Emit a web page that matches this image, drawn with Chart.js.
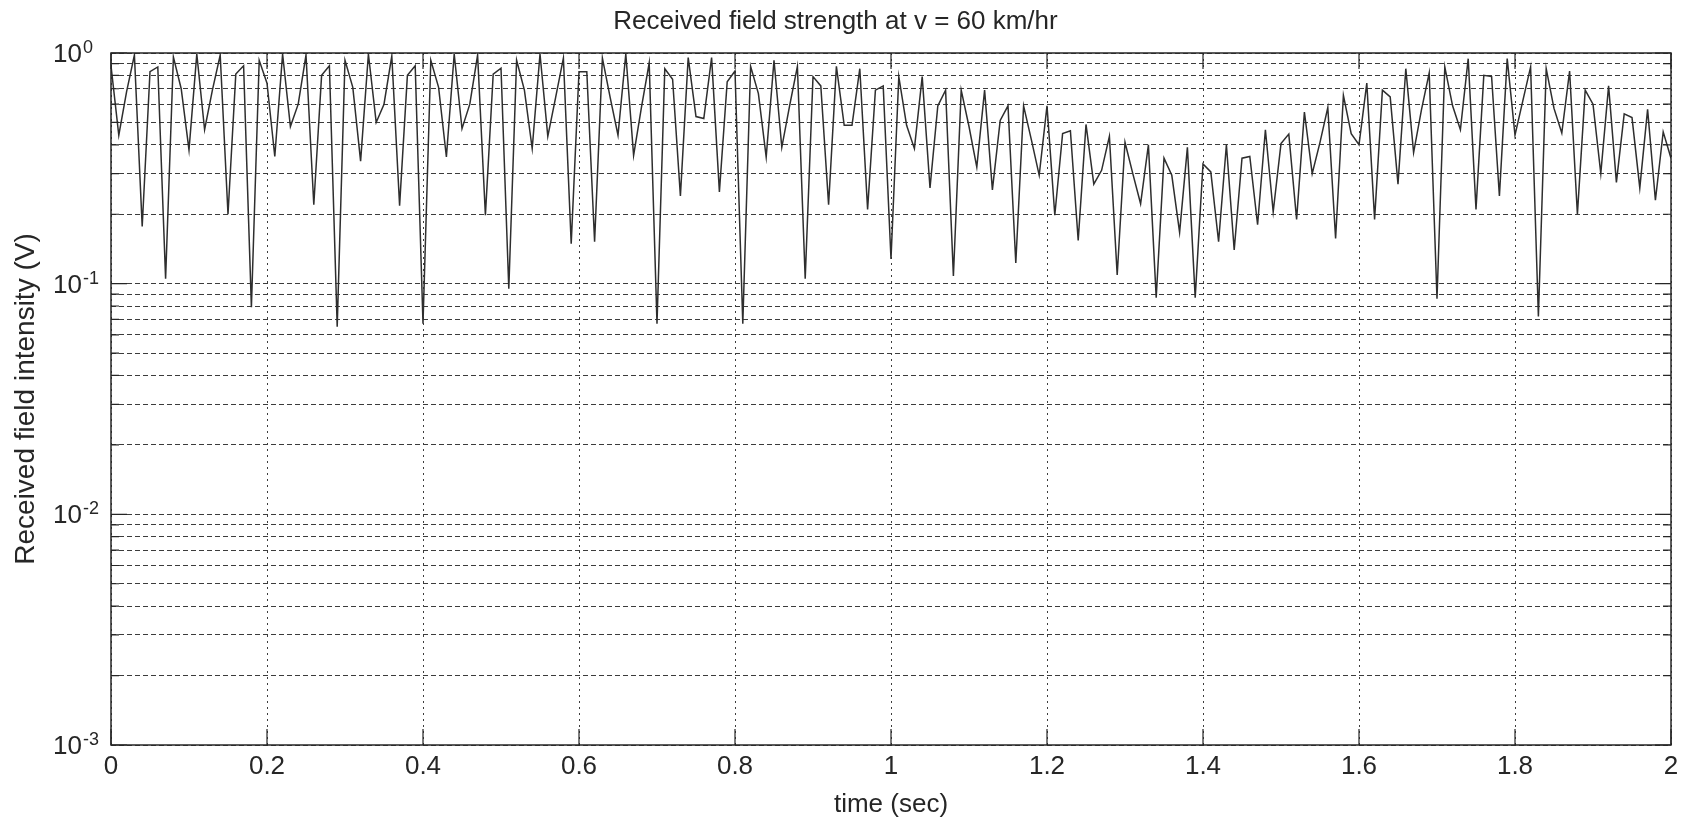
<!DOCTYPE html>
<html>
<head>
<meta charset="utf-8">
<title>Received field strength</title>
<script src="https://cdn.jsdelivr.net/npm/chart.js@4/dist/chart.umd.min.js"></script>
<style>
  html, body { margin: 0; padding: 0; background: #fff; }
  #wrap { width: 1692px; height: 823px; }
</style>
</head>
<body>
<div id="wrap"><canvas id="fieldChart"></canvas></div>
<script>
const sampleStep = 0.01;
const fieldValues = [
  0.88, 0.44, 0.68, 0.98, 0.177, 0.83, 0.87, 0.105, 0.96, 0.70,
  0.38, 0.99, 0.465, 0.69, 0.98, 0.20, 0.81, 0.88, 0.079, 0.93,
  0.74, 0.356, 0.99, 0.48, 0.60, 0.98, 0.22, 0.80, 0.88, 0.065,
  0.93, 0.71, 0.34, 0.99, 0.50, 0.60, 0.97, 0.218, 0.80, 0.88,
  0.067, 0.93, 0.71, 0.354, 0.99, 0.47, 0.60, 0.98, 0.198, 0.81,
  0.86, 0.095, 0.93, 0.69, 0.385, 0.99, 0.435, 0.64, 0.95, 0.149,
  0.83, 0.83, 0.152, 0.95, 0.64, 0.44, 0.99, 0.36, 0.58, 0.905,
  0.067, 0.855, 0.77, 0.24, 0.955, 0.53, 0.52, 0.955, 0.25, 0.75,
  0.835, 0.067, 0.875, 0.667, 0.354, 0.93, 0.39, 0.59, 0.875, 0.105,
  0.79, 0.72, 0.22, 0.875, 0.486, 0.486, 0.855, 0.21, 0.69, 0.72,
  0.128, 0.79, 0.486, 0.385, 0.79, 0.26, 0.59, 0.69, 0.108, 0.69,
  0.48, 0.32, 0.69, 0.255, 0.51, 0.59, 0.123, 0.59, 0.42, 0.295,
  0.59, 0.198, 0.447, 0.46, 0.154, 0.49, 0.27, 0.31, 0.435, 0.109,
  0.41, 0.30, 0.222, 0.40, 0.087, 0.35, 0.295, 0.167, 0.39, 0.087,
  0.33, 0.305, 0.152, 0.40, 0.14, 0.35, 0.356, 0.18, 0.465, 0.205,
  0.405, 0.445, 0.19, 0.555, 0.30, 0.41, 0.58, 0.157, 0.655, 0.447,
  0.40, 0.74, 0.19, 0.69, 0.645, 0.27, 0.855, 0.37, 0.565, 0.82,
  0.086, 0.87, 0.59, 0.465, 0.945, 0.21, 0.80, 0.79, 0.24, 0.945,
  0.44, 0.62, 0.87, 0.072, 0.855, 0.575, 0.45, 0.835, 0.20, 0.69,
  0.60, 0.30, 0.72, 0.275, 0.545, 0.525, 0.26, 0.57, 0.23, 0.455,
  0.35
];

const xTicks = [0, 0.2, 0.4, 0.6, 0.8, 1, 1.2, 1.4, 1.6, 1.8, 2];
const xTickLabels = ['0', '0.2', '0.4', '0.6', '0.8', '1', '1.2', '1.4', '1.6', '1.8', '2'];
const yDecades = [0.001, 0.01, 0.1, 1];
const yDecadeExponents = ['-3', '-2', '-1', '0'];
const yMultiples = [1, 2, 3, 4, 5, 6, 7, 8, 9];

const fontFamily = '"Liberation Sans", Arial, Helvetica, sans-serif';
const inkColor = '#262626';

// every gridline value of the log axis: 1..9 x each decade, then 1
const yGridValues = [];
yDecades.slice(0, -1).forEach((d) => {
  yMultiples.forEach((m) => yGridValues.push(+(d * m).toPrecision(3)));
});
yGridValues.push(1);

const points = fieldValues.map((v, i) => ({ x: +(i * sampleStep).toFixed(2), y: v }));

// box, inward ticks and 10^n labels, like the MATLAB axes
const axesFrame = {
  id: 'axesFrame',
  afterDraw(chart) {
    const { ctx, chartArea: a, scales } = chart;
    const xs = scales.x;
    const ys = scales.y;
    ctx.save();
    ctx.strokeStyle = inkColor;
    ctx.lineWidth = 1.5;
    ctx.setLineDash([]);
    ctx.strokeRect(a.left, a.top, a.right - a.left, a.bottom - a.top);

    ctx.lineWidth = 1.2;
    ctx.beginPath();
    xTicks.forEach((t) => {
      const px = xs.getPixelForValue(t);
      ctx.moveTo(px, a.bottom);
      ctx.lineTo(px, a.bottom - 16);
      ctx.moveTo(px, a.top);
      ctx.lineTo(px, a.top + 16);
    });
    yGridValues.forEach((v) => {
      const py = ys.getPixelForValue(v);
      const len = yDecades.includes(v) ? 16 : 8;
      ctx.moveTo(a.left, py);
      ctx.lineTo(a.left + len, py);
      ctx.moveTo(a.right, py);
      ctx.lineTo(a.right - len, py);
    });
    ctx.stroke();

    ctx.fillStyle = inkColor;
    yDecades.forEach((d, i) => {
      const py = ys.getPixelForValue(d);
      ctx.font = '26px ' + fontFamily;
      ctx.textAlign = 'right';
      ctx.textBaseline = 'alphabetic';
      ctx.fillText('10', a.left - 29, py + 9);
      ctx.font = '18px ' + fontFamily;
      ctx.textAlign = 'left';
      ctx.fillText(yDecadeExponents[i], a.left - 28, py);
    });
    ctx.restore();
  },
};

new Chart(document.getElementById('fieldChart'), {
  type: 'line',
  data: {
    datasets: [
      {
        data: points,
        borderColor: '#2e2e2e',
        borderWidth: 1.5,
        pointRadius: 0,
        tension: 0,
        fill: false,
      },
    ],
  },
  options: {
    responsive: true,
    maintainAspectRatio: false,
    animation: false,
    layout: {
      padding: { left: 0, right: 21, top: 0, bottom: 0 },
    },
    plugins: {
      legend: { display: false },
      tooltip: { enabled: false },
      title: {
        display: true,
        text: 'Received field strength at v = 60 km/hr',
        color: inkColor,
        font: { family: fontFamily, size: 26, weight: 'normal' },
        padding: { top: 6, bottom: 15.8 },
      },
    },
    scales: {
      x: {
        type: 'linear',
        min: 0,
        max: 2,
        afterFit: (scale) => { scale.height = 78; },
        afterBuildTicks: (scale) => {
          scale.ticks = xTicks.map((value) => ({ value }));
        },
        ticks: {
          color: inkColor,
          font: { family: fontFamily, size: 26 },
          padding: 6,
          maxRotation: 0,
          callback: (value, index) => xTickLabels[index],
        },
        grid: {
          color: '#3c3c3c',
          lineWidth: 1,
          drawTicks: false,
        },
        border: { display: false, dash: [2, 4] },
        title: {
          display: true,
          text: 'time (sec)',
          color: inkColor,
          font: { family: fontFamily, size: 26 },
          padding: { top: 0, bottom: 3 },
        },
      },
      y: {
        type: 'logarithmic',
        min: 0.001,
        max: 1,
        afterFit: (scale) => { scale.width = 111; },
        afterBuildTicks: (scale) => {
          scale.ticks = yGridValues.map((value) => ({ value, major: yDecades.includes(value) }));
        },
        ticks: { display: false },
        grid: {
          color: '#3c3c3c',
          lineWidth: 1,
          drawTicks: false,
        },
        border: { display: false, dash: [5, 3] },
        title: {
          display: true,
          text: 'Received field intensity (V)',
          color: inkColor,
          font: { family: fontFamily, size: 28 },
          padding: { top: 9, bottom: 0 },
        },
      },
    },
  },
  plugins: [axesFrame],
});
</script>
</body>
</html>
